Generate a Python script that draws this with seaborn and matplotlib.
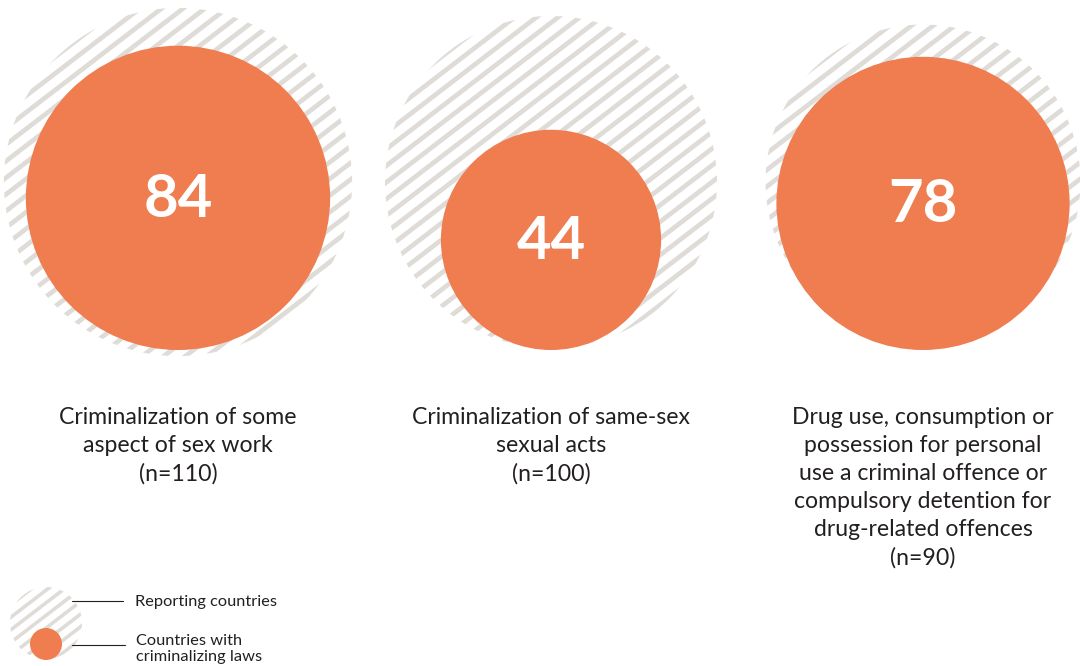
import numpy as np
import matplotlib
matplotlib.use("Agg")
import matplotlib.pyplot as plt
from matplotlib.patches import Circle
import seaborn as sns

# ---- data ----
labels = [
    "Criminalization of some\naspect of sex work",
    "Criminalization of same-sex\nsexual acts",
    "Drug use, consumption or\npossession for personal\nuse a criminal offence or\ncompulsory detention for\ndrug-related offences",
]
reporting = [110, 100, 90]
criminalizing = [84, 44, 78]
legend_labels = ["Reporting countries", "Countries with\ncriminalizing laws"]

ORANGE = "#EF7D50"
STRIPE = "#DFDCD8"
TEXT = "#231F20"

sns.set_theme(style="white")
plt.rcParams["font.family"] = ["Lato", "DejaVu Sans"]

W, H = 1080, 666
fig = plt.figure(figsize=(W / 100, H / 100), dpi=100)
ax = fig.add_axes([0, 0, 1, 1])
ax.set_xlim(0, W)
ax.set_ylim(H, 0)
ax.set_aspect("equal")
ax.axis("off")

K = 16.6  # px per sqrt(country)
centers_x = [178, 551, 923]
gray_cy = 182
base_y = 350


def striped_circle(cx, cy, r, lw=3.4, spacing=13.2, angle=37.5):
    clip = Circle((cx, cy), r, facecolor="none", edgecolor="none")
    ax.add_patch(clip)
    a = np.deg2rad(angle)
    u = np.array([np.cos(a), -np.sin(a)])
    n = np.array([np.sin(a), np.cos(a)])
    offs = np.arange(-r - spacing, r + spacing, spacing)
    for d in offs:
        p0 = np.array([cx, cy]) + d * n - (r + 10) * u
        p1 = np.array([cx, cy]) + d * n + (r + 10) * u
        ln, = ax.plot([p0[0], p1[0]], [p0[1], p1[1]], color=STRIPE,
                      lw=lw, solid_capstyle="butt", zorder=1)
        ln.set_clip_path(clip)


for cx, rep, crim, lab in zip(centers_x, reporting, criminalizing, labels):
    rg = K * np.sqrt(rep)
    ro = K * np.sqrt(crim)
    striped_circle(cx, gray_cy, rg)
    oy = base_y - ro
    ax.add_patch(Circle((cx, oy), ro, facecolor=ORANGE, edgecolor="none", zorder=2))
    ax.text(cx, oy + 2, str(crim), ha="center", va="center", color="white",
            fontsize=43, fontweight="bold", zorder=3)
    ax.text(cx, 407, lab + f"\n(n={rep})", ha="center", va="top", color=TEXT,
            fontsize=16.6, linespacing=1.41)

# ---- legend ----
striped_circle(46, 623, 36, lw=2.6, spacing=10)
ax.add_patch(Circle((46, 644), 16, facecolor=ORANGE, edgecolor="none", zorder=2))
ax.plot([72, 123], [601, 601], color=TEXT, lw=0.8, zorder=3)
ax.plot([72, 125], [645, 645], color=TEXT, lw=0.8, zorder=3)
ax.text(135, 602, legend_labels[0], ha="left", va="center", color=TEXT, fontsize=11.8)
ax.text(136, 634, legend_labels[1], ha="left", va="top", color=TEXT, fontsize=11.8,
        linespacing=1.2)

fig.savefig("out.png", dpi=100)
